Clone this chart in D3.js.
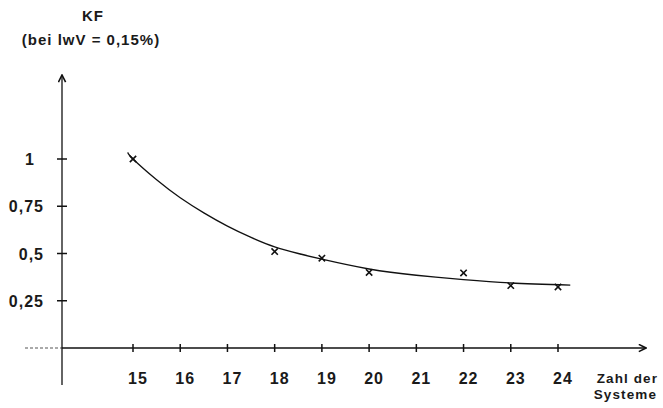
<!DOCTYPE html>
<html>
<head>
<meta charset="utf-8">
<script src="https://cdn.jsdelivr.net/npm/d3@7/dist/d3.min.js"></script>
<style>
  body { margin: 0; background: #fff; }
  text { font-family: "Liberation Sans", Arial, sans-serif; fill: #1a1a1a; font-weight: bold; }
</style>
</head>
<body>
<div id="chart"></div>
<script>
// measured points (Zahl der Systeme -> KF)
const systems = [15, 18, 19, 20, 22, 23, 24];
const kf = [1.0, 0.51, 0.475, 0.40, 0.397, 0.33, 0.323];

// hand drawn fitted curve
const curveX = [14.89, 15, 15.5, 16, 16.5, 17, 17.5, 18, 18.5, 19, 20, 21, 22, 23, 24.26];
const curveY = [1.035, 1.0, 0.89, 0.795, 0.715, 0.645, 0.585, 0.535, 0.50, 0.47, 0.418, 0.385, 0.362, 0.344, 0.333];

const xTicks = [15, 16, 17, 18, 19, 20, 21, 22, 23, 24];
const yTicks = [1, 0.75, 0.5, 0.25];
const yTickLabels = ["1", "0,75", "0,5", "0,25"];

const width = 663, height = 408;

// 15 -> 133px, 24 -> 558px ; 0 -> 348px, 1 -> 159px
const x = d3.scaleLinear().domain([15, 24]).range([133, 558]);
const y = d3.scaleLinear().domain([0, 1]).range([348, 159]);

const svg = d3.select("#chart")
  .append("svg")
  .attr("width", width)
  .attr("height", height);

svg.append("defs").append("marker")
    .attr("id", "arrow")
    .attr("viewBox", "0 0 10 10")
    .attr("refX", 9).attr("refY", 5)
    .attr("markerWidth", 9).attr("markerHeight", 9)
    .attr("markerUnits", "userSpaceOnUse")
    .attr("orient", "auto")
  .append("path")
    .attr("d", "M1,1 L9,5 L1,9")
    .attr("fill", "none")
    .attr("stroke", "#111")
    .attr("stroke-width", 1.8);

// x axis: faint dotted part left of the y axis, solid to the right
svg.append("line")
  .attr("x1", 25).attr("x2", 62)
  .attr("y1", y(0)).attr("y2", y(0))
  .attr("stroke", "#555").attr("stroke-width", 1)
  .attr("stroke-dasharray", "3,2");
svg.append("line")
  .attr("x1", 62).attr("x2", 646)
  .attr("y1", y(0)).attr("y2", y(0))
  .attr("stroke", "#111").attr("stroke-width", 1.3)
  .attr("marker-end", "url(#arrow)");

// y axis
svg.append("line")
  .attr("x1", 62).attr("x2", 62)
  .attr("y1", 385).attr("y2", 75)
  .attr("stroke", "#111").attr("stroke-width", 1.3)
  .attr("marker-end", "url(#arrow)");

// x ticks + labels
svg.selectAll(".xtick")
    .data(xTicks)
  .enter().append("line")
    .attr("x1", d => x(d)).attr("x2", d => x(d))
    .attr("y1", y(0) - 4).attr("y2", y(0) + 4)
    .attr("stroke", "#111").attr("stroke-width", 1.5);

svg.selectAll(".xlab")
    .data(xTicks)
  .enter().append("text")
    .attr("x", d => x(d) + 5)
    .attr("y", 384)
    .attr("text-anchor", "middle")
    .attr("font-size", 16)
    .attr("letter-spacing", 1)
    .text(d => d);

// y ticks + labels
svg.selectAll(".ytick")
    .data(yTicks)
  .enter().append("line")
    .attr("x1", 57).attr("x2", 67)
    .attr("y1", d => y(d)).attr("y2", d => y(d))
    .attr("stroke", "#111").attr("stroke-width", 1.5);

svg.selectAll(".ylab")
    .data(yTicks)
  .enter().append("text")
    .attr("x", (d, i) => i == 0 ? 35 : 44)
    .attr("y", d => y(d) + 6)
    .attr("text-anchor", "end")
    .attr("font-size", 16)
    .attr("letter-spacing", 1)
    .text((d, i) => yTickLabels[i]);

// axis titles
svg.append("text")
  .attr("x", 93).attr("y", 21)
  .attr("text-anchor", "middle")
  .attr("font-size", 15)
  .attr("letter-spacing", 1)
  .text("KF");
svg.append("text")
  .attr("x", 91).attr("y", 45)
  .attr("text-anchor", "middle")
  .attr("font-size", 15)
  .attr("letter-spacing", 1)
  .text("(bei lwV = 0,15%)");

svg.append("text")
  .attr("x", 658).attr("y", 383)
  .attr("text-anchor", "end")
  .attr("font-size", 13.5)
  .attr("letter-spacing", 1.1)
  .text("Zahl der");
svg.append("text")
  .attr("x", 657).attr("y", 399)
  .attr("text-anchor", "end")
  .attr("font-size", 13.5)
  .attr("letter-spacing", 1.1)
  .text("Systeme");

// fitted curve
const line = d3.line()
  .x(d => x(d[0]))
  .y(d => y(d[1]))
  .curve(d3.curveNatural);

svg.append("path")
  .datum(d3.zip(curveX, curveY))
  .attr("d", line)
  .attr("fill", "none")
  .attr("stroke", "#111")
  .attr("stroke-width", 1.3);

// measured points as small crosses
svg.selectAll(".pt")
    .data(d3.zip(systems, kf))
  .enter().append("path")
    .attr("transform", d => `translate(${x(d[0])},${y(d[1])})`)
    .attr("d", d3.symbol(d3.symbolX, 28))
    .attr("fill", "none")
    .attr("stroke", "#111")
    .attr("stroke-width", 1.6);
</script>
</body>
</html>
